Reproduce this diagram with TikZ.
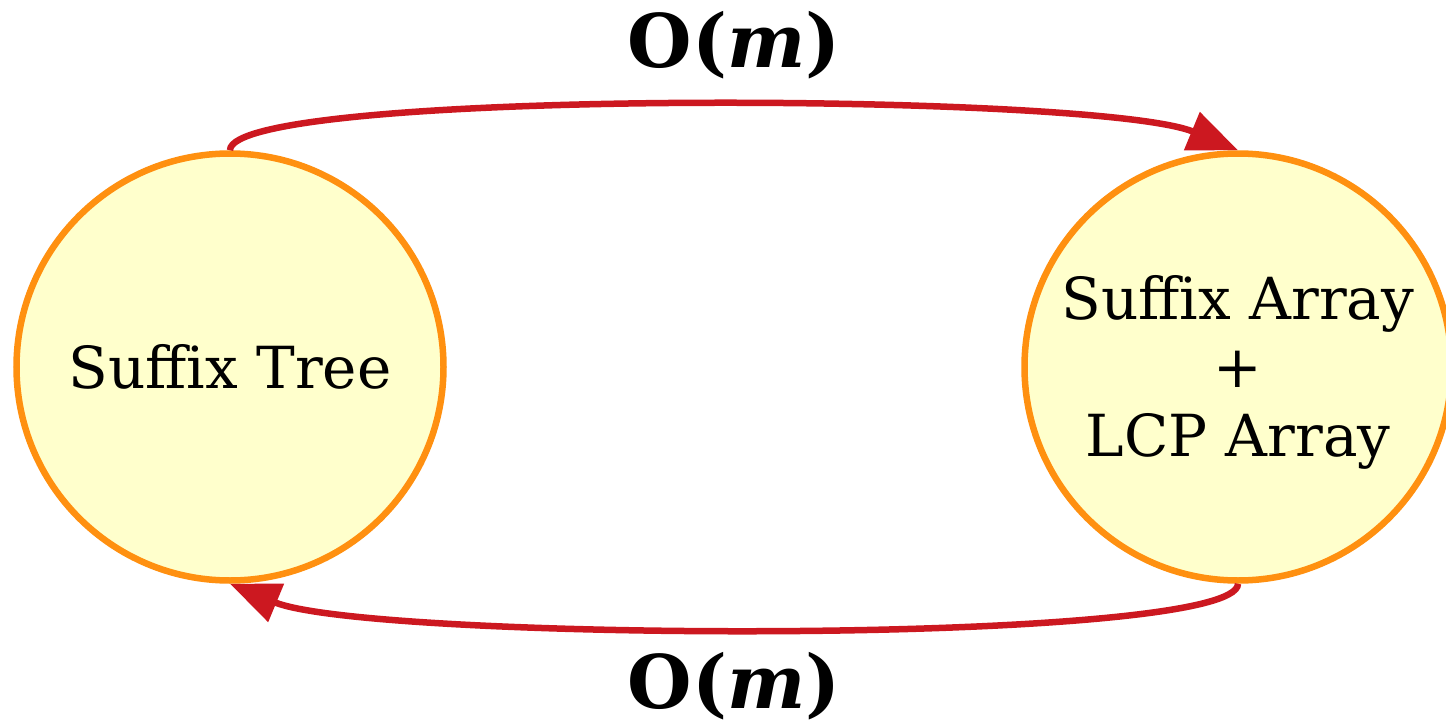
\documentclass[tikz,border=0pt]{standalone}
\usepackage{fontspec}
\setmainfont{DejaVu Serif}
\usetikzlibrary{arrows.meta,calc}
\definecolor{nodefill}{RGB}{255,255,204}
\definecolor{nodeline}{RGB}{255,144,16}
\definecolor{edgered}{RGB}{204,24,32}
\tikzset{
  state/.style={circle, draw=nodeline, fill=nodefill, line width=6.5pt,
    minimum size=427pt, inner sep=0pt, align=center,
    font=\fontsize{58}{68.5}\selectfont},
  statetext/.style={inner sep=0pt, align=center,
    font=\fontsize{58}{68.5}\selectfont},
  edge/.style={draw=edgered, line width=6.5pt,
    -{Triangle[length=50pt,width=40pt]}},
  cost/.style={font=\fontsize{74}{80}\selectfont\bfseries, anchor=base, inner sep=0pt}
}
\begin{document}
\begin{tikzpicture}[x=1pt,y=-1pt]
\useasboundingbox (0,0) rectangle (1446,725);
\node[state] (st) at (230,367) {Suffix Tree};
\node[state] (sa) at (1238,367) {};
\node[statetext] (satext) at ([yshift=-5pt]sa.center) {Suffix Array\\+\\LCP Array};
\draw[edge] (st.north) .. controls +(0,-62) and +(-140,-58) .. (sa.north);
\draw[edge] (sa.south) .. controls +(0,62) and +(140,58) .. (st.south);
\node[cost] (top) at (734,67) {O(\textit{m})};
\node[cost] (bot) at (734,708) {O(\textit{m})};
\end{tikzpicture}
\end{document}
